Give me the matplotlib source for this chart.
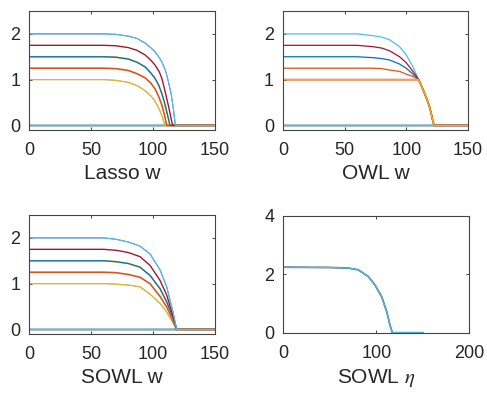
import matplotlib
matplotlib.use("Agg")
import matplotlib.pyplot as plt

plt.rcParams['font.family'] = ['Liberation Sans', 'DejaVu Sans']
plt.rcParams['mathtext.fontset'] = 'stix'

# MATLAB default line colours
c_blue = '#0072BD'
c_orange = '#D95319'
c_yellow = '#EDB120'
c_purple = '#7E2F8E'
c_green = '#77AC30'
c_lblue = '#4DBEEE'
c_maroon = '#A2142F'
c_grey = '#6f8f8f'

# ---- Lasso w ----
lasso_x2 = [0, 60, 70, 80, 87, 93.5, 98, 101.5, 105, 107, 110, 112.3, 114.5, 116.3, 118, 150]
lasso_y2 = [2.0, 2.0, 1.99, 1.95, 1.9, 1.8, 1.7, 1.61, 1.48, 1.39, 1.2, 0.96, 0.7, 0.37, 0, 0]
lasso_x175 = [0, 60, 70, 80, 87, 93.5, 98, 101.5, 105, 107, 109, 111, 113, 114.5, 115.8, 150]
lasso_y175 = [1.75, 1.75, 1.74, 1.7, 1.64, 1.54, 1.43, 1.32, 1.17, 1.03, 0.82, 0.59, 0.35, 0.15, 0, 0]
lasso_x15 = [0, 60, 70, 80, 87, 93.5, 98, 101.5, 104.5, 107, 109, 111, 112.5, 113.6, 150]
lasso_y15 = [1.5, 1.5, 1.49, 1.45, 1.38, 1.28, 1.15, 1.03, 0.88, 0.7, 0.52, 0.3, 0.13, 0, 0]
lasso_x125 = [0, 60, 70, 80, 87, 93.5, 98, 101.5, 104.5, 107, 109, 110.2, 111, 150]
lasso_y125 = [1.25, 1.25, 1.24, 1.2, 1.13, 1.04, 0.93, 0.8, 0.63, 0.45, 0.25, 0.1, 0, 0]
lasso_x1 = [0, 60, 70, 80, 87, 93.5, 98, 100.5, 103, 105.5, 107.5, 109.5, 150]
lasso_y1 = [1.0, 1.0, 0.985, 0.94, 0.87, 0.76, 0.65, 0.57, 0.46, 0.32, 0.18, 0, 0]

# ---- OWL w ----  (all curves meet at x=110, then share one tail)
owl_x = [0, 60, 73, 80, 86.4, 94.5, 99.9, 105.3, 110]
owl_y2 = [2.0, 2.0, 1.96, 1.93, 1.87, 1.72, 1.54, 1.28, 1.0]
owl_y175 = [1.75, 1.75, 1.72, 1.69, 1.63, 1.5, 1.37, 1.18, 1.0]
owl_y15 = [1.5, 1.5, 1.48, 1.46, 1.43, 1.34, 1.25, 1.12, 1.0]
owl_y125 = [1.25, 1.25, 1.25, 1.24, 1.21, 1.18, 1.12, 1.07, 1.0]
owl_y1 = [1.0, 1.0, 1.0, 1.0, 1.0, 1.0, 1.0, 1.0, 1.0]
owl_tail_x = [112, 114.7, 116.8, 118.7, 120.3, 121.4, 122.5, 150]
owl_tail_y = [0.88, 0.7, 0.56, 0.41, 0.24, 0.1, 0, 0]

# ---- SOWL w ----  (all curves reach zero at x=119)
sowl_x = [0, 60, 70, 80, 89.4, 97.5, 105.6, 111, 116.3, 119, 150]
sowl_y2 = [2.0, 2.0, 1.97, 1.91, 1.82, 1.65, 1.3, 0.93, 0.35, 0, 0]
sowl_y175 = [1.75, 1.75, 1.73, 1.68, 1.59, 1.4, 1.07, 0.75, 0.27, 0, 0]
sowl_y15 = [1.5, 1.5, 1.48, 1.44, 1.36, 1.18, 0.89, 0.6, 0.24, 0, 0]
sowl_y125 = [1.25, 1.25, 1.24, 1.2, 1.14, 1.0, 0.72, 0.49, 0.18, 0, 0]
sowl_y1 = [1.0, 1.0, 0.99, 0.97, 0.93, 0.77, 0.57, 0.38, 0.13, 0, 0]

# ---- SOWL eta ----
eta_x = [0, 50, 70, 80.6, 91.4, 98.6, 105.8, 111.2, 114.7, 117.2, 150]
eta_y = [2.24, 2.23, 2.21, 2.15, 1.92, 1.63, 1.23, 0.72, 0.26, 0, 0]

zero_x = [0, 150]
zero_y = [0, 0]

labels = ['Lasso w', 'OWL w', 'SOWL w', r'SOWL $\eta$']
lw = 0.9
lw_under = 0.6

fig = plt.figure(figsize=(4.87, 3.98), dpi=100)
ax1 = fig.add_axes([0.0602, 0.6734, 0.3813, 0.299])
ax2 = fig.add_axes([0.5811, 0.6734, 0.3800, 0.299])
ax3 = fig.add_axes([0.0602, 0.1608, 0.3813, 0.299])
ax4 = fig.add_axes([0.5817, 0.1640, 0.3820, 0.294])


def zero_lines(ax):
    for c in [c_purple, c_green, c_grey, c_blue, c_lblue]:
        ax.plot(zero_x, zero_y, color=c, lw=lw)


# Lasso
zero_lines(ax1)
ax1.plot(lasso_x1, lasso_y1, color=c_lblue, lw=lw_under)
ax1.plot(lasso_x1, lasso_y1, color=c_yellow, lw=lw)
ax1.plot(lasso_x125, lasso_y125, color=c_orange, lw=lw * 1.3)
ax1.plot(lasso_x15, lasso_y15, color=c_yellow, lw=lw * 1.3)
ax1.plot(lasso_x15, lasso_y15, color=c_blue, lw=lw)
ax1.plot(lasso_x175, lasso_y175, color=c_maroon, lw=lw * 1.1)
ax1.plot(lasso_x2, lasso_y2, color=c_purple, lw=lw_under)
ax1.plot(lasso_x2, lasso_y2, color=c_lblue, lw=lw)

# OWL
zero_lines(ax2)
for ys, c in [(owl_y2, c_lblue), (owl_y175, c_maroon), (owl_y15, c_blue), (owl_y125, c_orange)]:
    ax2.plot(owl_x + owl_tail_x, ys + owl_tail_y, color=c, lw=lw)
ax2.plot(owl_x + owl_tail_x, owl_y1 + owl_tail_y, color=c_orange, lw=lw * 1.4)
ax2.plot(owl_x + owl_tail_x, owl_y1 + owl_tail_y, color=c_yellow, lw=lw)

# SOWL
zero_lines(ax3)
ax3.plot(sowl_x, sowl_y1, color=c_lblue, lw=lw_under)
ax3.plot(sowl_x, sowl_y1, color=c_yellow, lw=lw)
ax3.plot(sowl_x, sowl_y125, color=c_orange, lw=lw * 1.3)
ax3.plot(sowl_x, sowl_y15, color=c_yellow, lw=lw * 1.3)
ax3.plot(sowl_x, sowl_y15, color=c_blue, lw=lw)
ax3.plot(sowl_x, sowl_y175, color=c_maroon, lw=lw * 1.1)
ax3.plot(sowl_x, sowl_y2, color=c_purple, lw=lw_under)
ax3.plot(sowl_x, sowl_y2, color=c_lblue, lw=lw)

# SOWL eta
ax4.plot(eta_x, eta_y, color='#555555', lw=lw * 1.4)
ax4.plot(eta_x, eta_y, color=c_lblue, lw=lw)

for ax in [ax1, ax2, ax3]:
    ax.set_xlim(0, 150)
    ax.set_ylim(-0.1, 2.5)
    ax.set_xticks([0, 50, 100, 150])
    ax.set_yticks([0, 1, 2])
ax4.set_xlim(0, 200)
ax4.set_ylim(0, 4)
ax4.set_xticks([0, 100, 200])
ax4.set_yticks([0, 2, 4])

for ax, lab in zip([ax1, ax2, ax3, ax4], labels):
    ax.tick_params(direction='in', top=True, right=True, length=2.5, width=0.6,
                   color='#262626', labelcolor='#262626', labelsize=13)
    ax.tick_params(axis='x', pad=8.5)
    ax.tick_params(axis='y', pad=6.5)
    for s in ax.spines.values():
        s.set_color('#444444')
        s.set_linewidth(0.8)
    ax.set_xlabel(lab, fontsize=15, color='#262626', labelpad=4)

fig.savefig('out.png', dpi=100)
